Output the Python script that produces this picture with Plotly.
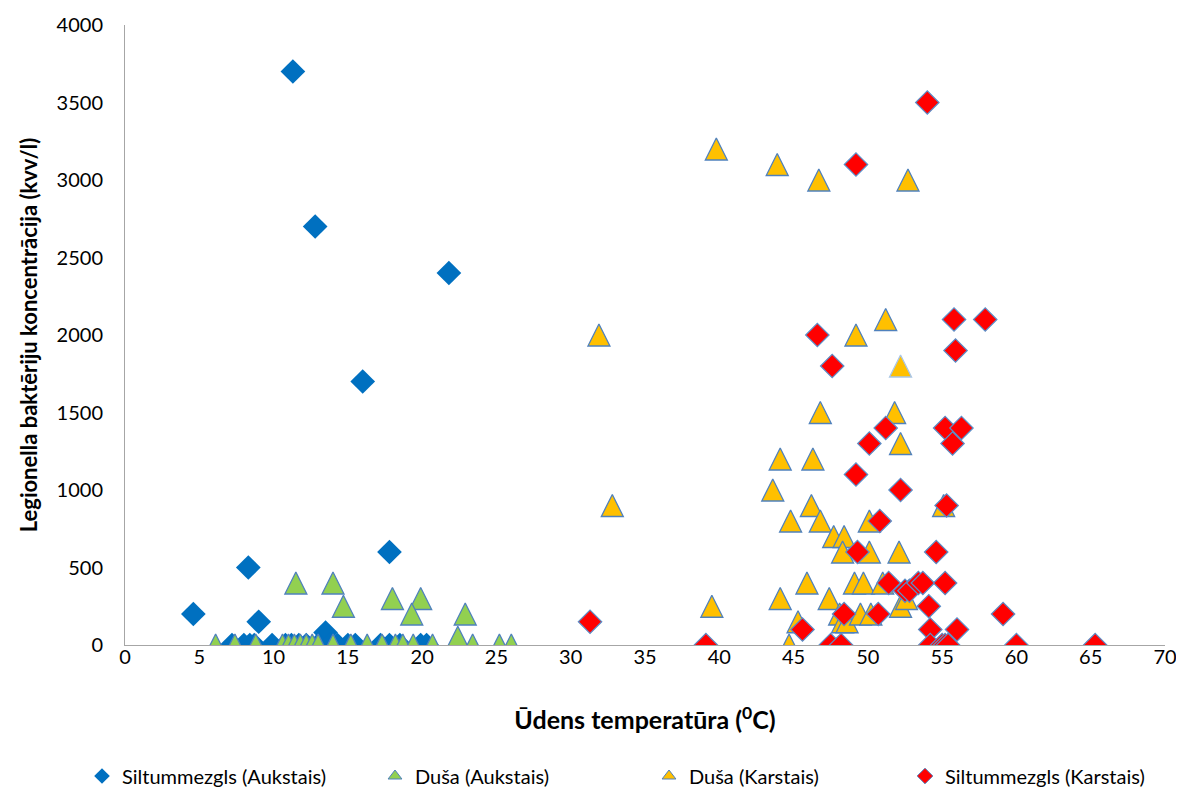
import plotly.graph_objects as go

# ---------------- data ----------------
series_names = ["Siltummezgls (Aukstais)", "Duša (Aukstais)", "Duša (Karstais)", "Siltummezgls (Karstais)"]

silt_auk_x = [4.6, 8.3, 9.0, 11.3, 12.8, 16.0, 17.8, 21.8, 13.5,
              7.2, 8.0, 8.4, 8.7, 9.9, 10.8, 11.2, 11.7, 12.2, 13.0, 13.8, 14.3, 15.0, 15.5,
              17.2, 17.8, 18.5, 19.9, 20.3]
silt_auk_y = [200, 500, 150, 3700, 2700, 1700, 600, 2400, 80,
              0, 0, 0, 0, 0, 0, 0, 0, 0, 0, 0, 0, 0, 0,
              0, 0, 0, 0, 0]

dusa_auk_x = [11.5, 14.0, 14.7, 18.0, 19.9, 19.3, 22.9, 22.4,
              6.1, 7.4, 8.8, 10.6, 11.0, 11.4, 11.8, 12.2, 12.6, 13.0, 14.0, 15.2, 16.3,
              17.3, 18.2, 18.7, 19.4, 20.7, 23.4, 25.2, 26.0]
dusa_auk_y = [400, 400, 250, 300, 300, 200, 200, 50,
              0, 0, 0, 0, 0, 0, 0, 0, 0, 0, 0, 0, 0,
              0, 0, 0, 0, 0, 0, 0, 0]

dusa_kar_x = [31.9, 32.8, 39.8, 39.5, 43.6, 43.9, 44.1, 44.1, 44.7, 44.8, 45.3, 45.9,
              46.3, 46.2, 46.7, 46.8, 46.8, 47.4, 47.7, 48.4, 48.3, 48.1, 48.3, 48.6,
              49.1, 49.2, 49.7, 49.5, 50.1, 50.1, 50.2, 51.0, 51.2, 51.8, 52.1, 52.2,
              52.2, 52.2, 52.6, 52.7, 55.1]
dusa_kar_y = [2000, 900, 3200, 250, 1000, 3100, 1200, 300, 0, 800, 150, 400,
              1200, 900, 3000, 1500, 800, 300, 700, 700, 600, 200, 150, 150,
              400, 2000, 400, 200, 800, 600, 200, 400, 2100, 1500, 600, 1800,
              1300, 250, 300, 3000, 900]

silt_kar_x = [31.3, 39.1, 45.6, 46.6, 47.5, 47.6, 48.2, 48.4, 49.2, 49.2, 49.3, 50.1,
              50.7, 50.8, 51.2, 51.4, 52.2, 52.5, 52.8, 53.4, 53.7, 54.0, 54.1, 54.2,
              54.2, 54.6, 55.0, 55.2, 55.2, 55.2, 55.3, 55.4, 55.7, 55.8, 55.9, 56.0,
              56.3, 57.9, 59.1, 60.0, 65.3]
silt_kar_y = [150, 0, 100, 2000, 0, 1800, 0, 200, 3100, 1100, 600, 1300,
              200, 800, 1400, 400, 1000, 350, 350, 400, 400, 3500, 250, 100,
              0, 600, 0, 0, 400, 1400, 900, 0, 1300, 2100, 1900, 100,
              1400, 2100, 200, 0, 0]

x_title = "Ūdens temperatūra (<sup>0</sup>C)"
y_title = "Legionella baktēriju koncentrācija (kvv/l)"
x_range = [0, 70]
y_range = [0, 4000]

# ---------------- styling ----------------
# the page body has an 8px default margin, so the figure is drawn 8px smaller and offset
OFF = 8
W, H = 1184 - OFF, 790 - OFF
M_L, M_R, M_T, M_B = 125 - OFF, 19, 25 - OFF, 145
plot_h = H - M_T - M_B
FONT = "Lato"
FS = 20
OUTLINE = "#4F81BD"
LIGHT_OUTLINE = "#A9C6E8"
TRI_SIZE = 22
DIA_SIZE = 18
# arrow-up symbol has its tip on the point; shift its axis so the triangle is centred
shift = (TRI_SIZE / 2) * (y_range[1] - y_range[0]) / plot_h

# one yellow triangle (52.2, 1800) is drawn with a pale outline in the original
dusa_kar_line = [LIGHT_OUTLINE if (x, y) == (52.2, 1800) else OUTLINE
                 for x, y in zip(dusa_kar_x, dusa_kar_y)]

fig = go.Figure()

fig.add_trace(go.Scatter(
    x=silt_auk_x, y=silt_auk_y, mode="markers", name=series_names[0],
    marker=dict(symbol="diamond", size=19, color="#0070C0", line=dict(width=0)),
    yaxis="y", showlegend=False))
fig.add_trace(go.Scatter(
    x=dusa_auk_x, y=dusa_auk_y, mode="markers", name=series_names[1],
    marker=dict(symbol="arrow-up", size=TRI_SIZE, color="#92D050", line=dict(width=1.3, color=OUTLINE)),
    yaxis="y2", showlegend=False))
fig.add_trace(go.Scatter(
    x=dusa_kar_x, y=dusa_kar_y, mode="markers", name=series_names[2],
    marker=dict(symbol="arrow-up", size=TRI_SIZE, color="#FFC000",
                line=dict(width=1.3, color=dusa_kar_line)),
    yaxis="y2", showlegend=False))
fig.add_trace(go.Scatter(
    x=silt_kar_x, y=silt_kar_y, mode="markers", name=series_names[3],
    marker=dict(symbol="diamond", size=DIA_SIZE, color="#FF0000", line=dict(width=1.2, color="#5B8FC9")),
    yaxis="y3", showlegend=False))

# legend entries
leg_symbols = ["diamond", "triangle-up", "triangle-up", "diamond"]
leg_colors = ["#0070C0", "#92D050", "#FFC000", "#FF0000"]
leg_lines = [0, 1, 1, 1]
leg_names = ["legend", "legend2", "legend3", "legend4"]
leg_x_px = [82, 375, 649, 905]   # page x of each legend box
for i in range(4):
    fig.add_trace(go.Scatter(
        x=[None], y=[None], mode="markers", name=series_names[i],
        marker=dict(symbol=leg_symbols[i], size=12, color=leg_colors[i],
                    line=dict(width=leg_lines[i], color=OUTLINE)),
        legend=leg_names[i], showlegend=True))

axis_font = dict(family=FONT, size=FS, color="#000000")
layout = dict(
    width=W, height=H,
    margin=dict(l=M_L, r=M_R, t=M_T, b=M_B, pad=0, autoexpand=False),
    paper_bgcolor="white", plot_bgcolor="white",
    font=dict(family=FONT, size=FS, color="#000000"),
    xaxis=dict(range=x_range, dtick=5, tick0=0, showline=True, linecolor="#A6A6A6", linewidth=1,
               showgrid=False, zeroline=False, ticks="", ticklen=0, tickfont=axis_font,
               ticklabelstandoff=-6, automargin=False,
               title=dict(text=x_title, font=dict(family=FONT, size=25, color="#000000", weight="bold"),
                          standoff=44)),
    yaxis=dict(range=y_range, dtick=500, showline=True, linecolor="#A6A6A6", linewidth=1,
               showgrid=False, zeroline=False, ticks="", ticklen=0, tickfont=axis_font,
               ticklabelstandoff=17, automargin=False,
               title=dict(text=y_title, font=dict(family=FONT, size=22, color="#000000", weight="bold"),
                          standoff=12)),
    yaxis2=dict(range=[y_range[0] - shift, y_range[1] - shift], overlaying="y", visible=False,
                automargin=False),
    yaxis3=dict(range=y_range, overlaying="y", visible=False, automargin=False),
)
for i in range(4):
    layout[leg_names[i]] = dict(
        orientation="h", xref="container", yref="container",
        x=(leg_x_px[i] - OFF) / W, xanchor="left", y=1 - (776 - OFF) / H, yanchor="middle",
        font=dict(family=FONT, size=FS, color="#000000"), bgcolor="rgba(0,0,0,0)",
        itemsizing="trace")
fig.update_layout(**layout)

fig.write_html("out.html")
